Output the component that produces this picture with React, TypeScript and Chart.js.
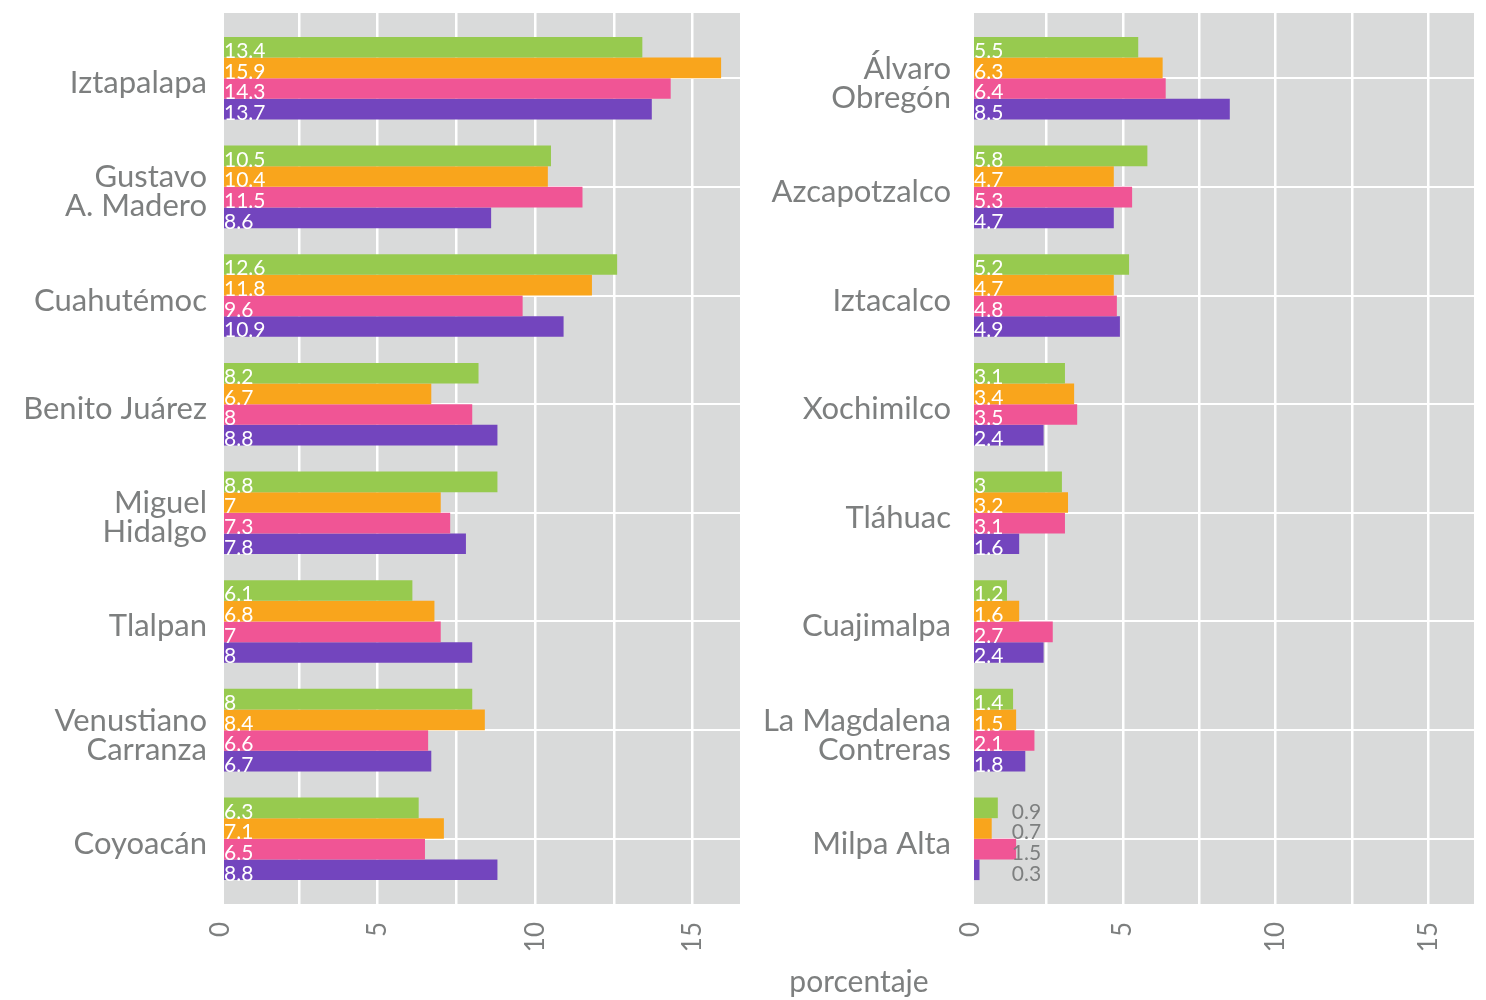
import React, { useEffect, useRef } from "react";
import { Chart, registerables } from "chart.js";

Chart.register(...registerables);

// ---------- data ----------
const leftCategories = [
  ["Iztapalapa"],
  ["Gustavo", "A. Madero"],
  ["Cuahutémoc"],
  ["Benito Juárez"],
  ["Miguel", "Hidalgo"],
  ["Tlalpan"],
  ["Venustiano", "Carranza"],
  ["Coyoacán"],
];
const leftSeries1 = [13.4, 10.5, 12.6, 8.2, 8.8, 6.1, 8, 6.3];
const leftSeries2 = [15.9, 10.4, 11.8, 6.7, 7, 6.8, 8.4, 7.1];
const leftSeries3 = [14.3, 11.5, 9.6, 8, 7.3, 7, 6.6, 6.5];
const leftSeries4 = [13.7, 8.6, 10.9, 8.8, 7.8, 8, 6.7, 8.8];

const rightCategories = [
  ["Álvaro", "Obregón"],
  ["Azcapotzalco"],
  ["Iztacalco"],
  ["Xochimilco"],
  ["Tláhuac"],
  ["Cuajimalpa"],
  ["La Magdalena", "Contreras"],
  ["Milpa Alta"],
];
const rightSeries1 = [5.5, 5.8, 5.2, 3.1, 3, 1.2, 1.4, 0.9];
const rightSeries2 = [6.3, 4.7, 4.7, 3.4, 3.2, 1.6, 1.5, 0.7];
const rightSeries3 = [6.4, 5.3, 4.8, 3.5, 3.1, 2.7, 2.1, 1.5];
const rightSeries4 = [8.5, 4.7, 4.9, 2.4, 1.6, 2.4, 1.8, 0.3];

const seriesNames = ["Serie 1", "Serie 2", "Serie 3", "Serie 4"];
const seriesColors = ["#97ca4f", "#f9a51c", "#f05595", "#7345be"];
const xTickValues = [0, 2.5, 5, 7.5, 10, 12.5, 15];
const axisTitle = "porcentaje";

// ---------- styles ----------
const FONT = "Lato";
const GRAY_TEXT = "#7d7f7f";
const PANEL_BG = "#d9dada";

const panelBackground = {
  id: "panelBackground",
  beforeDraw(chart: any) {
    const { ctx, chartArea } = chart;
    ctx.save();
    ctx.fillStyle = PANEL_BG;
    ctx.fillRect(chartArea.left, chartArea.top, chartArea.right - chartArea.left, chartArea.bottom - chartArea.top);
    ctx.restore();
  },
};

const valueLabels = {
  id: "valueLabels",
  afterDatasetsDraw(chart: any) {
    const { ctx, chartArea } = chart;
    const xs = chart.scales.x;
    const datasets = chart.data.datasets;
    const n = datasets[0].data.length;
    ctx.save();
    ctx.font = `21px ${FONT}`;
    ctx.textBaseline = "alphabetic";
    for (let i = 0; i < n; i++) {
      const vals = datasets.map((d: any) => d.data[i].x as number);
      const mx = Math.max(...vals);
      const outside = mx < 2;
      datasets.forEach((_: any, di: number) => {
        const el: any = chart.getDatasetMeta(di).data[i];
        const bottom = el.y + el.height / 2 + 0.5;
        const txt = String(vals[di]);
        if (outside) {
          ctx.fillStyle = GRAY_TEXT;
          ctx.textAlign = "right";
          ctx.fillText(txt, xs.getPixelForValue(mx) + 25, bottom);
        } else {
          ctx.fillStyle = "#ffffff";
          ctx.textAlign = "left";
          ctx.fillText(txt, chartArea.left, bottom);
        }
      });
    }
    ctx.restore();
  },
};

function buildConfig(categories: string[][], series: number[][], padRight: number, labelPad: number): any {
  return {
    type: "bar",
    data: {
      datasets: series.map((vals, si) => ({
        label: seriesNames[si],
        data: vals.map((v, i) => ({ x: v, y: i + 1 })),
        backgroundColor: seriesColors[si],
        borderWidth: 0,
        categoryPercentage: 0.76,
        barPercentage: 1,
      })),
    },
    options: {
      indexAxis: "y",
      animation: false,
      responsive: false,
      maintainAspectRatio: false,
      layout: { padding: { top: 13, right: padRight, bottom: 0, left: 0 } },
      plugins: { legend: { display: false }, tooltip: { enabled: false } },
      scales: {
        x: {
          type: "linear",
          min: 0.12,
          max: 16.5,
          offset: false,
          afterBuildTicks: (s: any) => {
            s.ticks = xTickValues.map((v) => ({ value: v }));
          },
          afterFit: (s: any) => {
            s.height = 96;
            s.paddingLeft = 0;
            s.paddingRight = 0;
          },
          ticks: {
            autoSkip: false,
            minRotation: 90,
            maxRotation: 90,
            padding: 18,
            color: GRAY_TEXT,
            font: { family: FONT, size: 26 },
            callback: (v: number) => (v % 5 === 0 ? String(v) : ""),
          },
          grid: { color: "#ffffff", lineWidth: 2.5, drawTicks: false, offset: false },
          border: { display: false },
        },
        y: {
          type: "linear",
          reverse: true,
          min: 0.4,
          max: 8.6,
          offset: false,
          afterBuildTicks: (s: any) => {
            s.ticks = categories.map((_, i) => ({ value: i + 1 }));
          },
          afterFit: (s: any) => {
            s.width = 224;
            s.paddingTop = 0;
            s.paddingBottom = 0;
          },
          ticks: {
            autoSkip: false,
            padding: labelPad,
            labelOffset: 5,
            color: GRAY_TEXT,
            font: { family: FONT, size: 31, lineHeight: 0.93 },
            callback: (v: number) => categories[Math.round(v) - 1] ?? "",
          },
          grid: { color: "#ffffff", lineWidth: 2, drawTicks: false, offset: false },
          border: { display: false },
        },
      },
    },
    plugins: [panelBackground, valueLabels],
  };
}

function Panel({ left, width, categories, series, padRight, labelPad }: any) {
  const ref = useRef<HTMLCanvasElement | null>(null);
  useEffect(() => {
    if (!ref.current) return;
    const chart = new Chart(ref.current, buildConfig(categories, series, padRight, labelPad));
    return () => chart.destroy();
  }, []);
  return (
    <div style={{ position: "absolute", left, top: 0, width, height: 1000 }}>
      <canvas ref={ref} width={width} height={1000} style={{ width, height: 1000, display: "block" }} />
    </div>
  );
}

export default function App() {
  return (
    <div style={{ position: "absolute", left: 0, top: 0, width: 1486, height: 1000, background: "#ffffff", overflow: "hidden" }}>
      <Panel
        left={0}
        width={745}
        categories={leftCategories}
        series={[leftSeries1, leftSeries2, leftSeries3, leftSeries4]}
        padRight={5}
        labelPad={17}
      />
      <Panel
        left={750}
        width={736}
        categories={rightCategories}
        series={[rightSeries1, rightSeries2, rightSeries3, rightSeries4]}
        padRight={12}
        labelPad={23}
      />
      <div
        style={{
          position: "absolute",
          left: 659,
          width: 400,
          top: 965,
          textAlign: "center",
          fontFamily: FONT,
          fontSize: 30,
          lineHeight: "30px",
          color: GRAY_TEXT,
        }}
      >
        {axisTitle}
      </div>
    </div>
  );
}
